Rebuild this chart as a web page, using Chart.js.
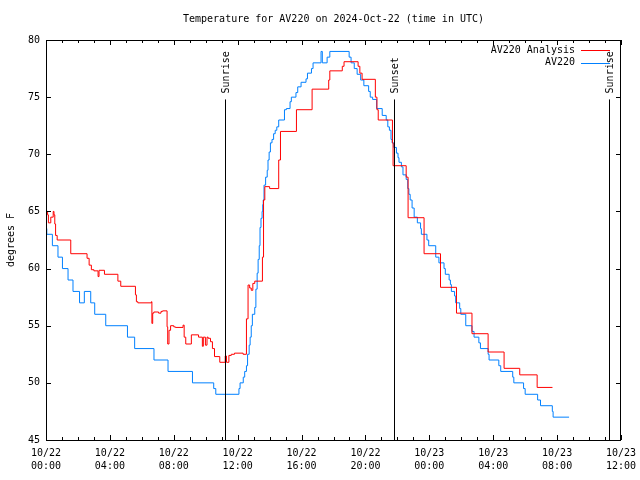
<!DOCTYPE html>
<html>
<head>
<meta charset="utf-8">
<script src="https://cdn.jsdelivr.net/npm/chart.js@4"></script>
<style>
  body { margin: 0; background: #fff; }
  canvas { display: block; }
</style>
</head>
<body>
<canvas id="chart" width="640" height="480"></canvas>
<script>
// hours after 10/22 00:00 UTC where the value changes, and the value from then on
const analysisHours = [0, 0.1, 0.15, 0.3, 0.45, 0.5, 0.55, 0.6, 0.7, 1.55, 2.57, 2.7, 2.84, 3.0, 3.26, 3.32, 3.66,
    4.5, 4.68, 5.6, 5.66, 5.75, 6.6, 6.63, 6.68, 6.75, 7.05, 7.2, 7.3, 7.58, 7.62, 7.7, 7.8, 8.0, 8.1, 8.58,
    8.65, 8.75, 9.1, 9.55, 9.79, 9.85, 9.98, 10.08, 10.15, 10.3, 10.42, 10.55, 10.88, 11.22, 11.3, 11.45,
    11.6, 11.8, 12.34, 12.55, 12.65, 12.75, 12.85, 12.95, 13.07, 13.55, 13.62, 13.7, 14.0, 14.57, 14.68,
    15.68, 16.66, 17.7, 17.77, 18.55, 18.66, 19.54, 19.65, 19.79, 20.62, 20.72, 20.8, 21.69, 21.73, 22.55,
    22.67, 23.67, 24.7, 25.7, 26.67, 27.68, 28.68, 29.66, 30.75, 31.71];
const analysisTemps = [65, 64.7, 64, 64.5, 65, 64.7, 63.9, 62.9, 62.5, 61.3, 60.9, 60.3, 59.9, 59.8, 59.3, 59.85, 59.5,
    58.9, 58.45, 57.7, 57.1, 57.0, 57.1, 55.2, 56.1, 56.2, 56.1, 56.25, 56.3, 54.9, 53.4, 54.6, 55.0, 54.9, 54.85, 55.05,
    54.0, 53.4, 54.2, 54.0, 53.2, 54.0, 53.3, 54.0, 53.9, 53.6, 53.0, 52.3, 51.8, 52.35, 51.8, 52.4,
    52.5, 52.6, 52.5, 55.6, 58.56, 58.3, 58.1, 58.7, 58.9, 61.0, 66.0, 67.17, 67.0, 69.5, 72.0,
    73.9, 75.7, 76.5, 77.3, 77.7, 78.1, 77.7, 77.1, 76.56, 75.0, 73.9, 73.0, 71.0, 69.0, 68.0,
    64.45, 61.3, 58.36, 56.1, 54.3, 52.7, 51.27, 50.7, 49.6, 49.6];

const obsHours = [0, 0.05, 0.4, 0.75, 1.03, 1.38, 1.69, 2.1, 2.4, 2.8, 3.05, 3.74, 5.1, 5.55, 6.76, 7.64, 9.17,
    10.5, 10.63, 12.08, 12.15, 12.35, 12.44, 12.55, 12.62, 12.72, 12.78, 12.85, 12.92, 13.07, 13.14, 13.22,
    13.28, 13.35, 13.4, 13.46, 13.53, 13.57, 13.6, 13.65, 13.75, 13.85, 13.9, 13.97, 14.05, 14.15, 14.25,
    14.35, 14.45, 14.57, 14.93, 15.05, 15.28, 15.36, 15.65, 15.76, 15.97, 16.28, 16.37, 16.62, 16.72,
    17.22, 17.3, 17.6, 17.77, 18.98, 19.1, 19.3, 19.48, 19.7, 19.9, 20.2, 20.3, 20.45, 20.7, 21.05, 21.3,
    21.4, 21.5, 21.6, 21.67, 21.77, 21.94, 22.04, 22.1, 22.25, 22.35, 22.55, 22.65, 22.72, 22.8, 22.92,
    23.05, 23.25, 23.45, 23.5, 23.85, 23.96, 24.4, 24.6, 24.92, 25.0, 25.24, 25.32, 25.38, 25.58, 25.65,
    25.9, 25.97, 26.28, 26.67, 26.8, 27.1, 27.2, 27.68, 27.74, 28.35, 28.47, 29.22, 29.29, 29.9, 30.0,
    30.78, 30.96, 31.7, 31.75, 32.75];
const obsTemps = [63.5, 63, 62, 61, 60, 59, 58, 57, 58, 57, 56, 55, 54, 53, 52, 51, 50,
    49.5, 49, 49.5, 50, 50.5, 51, 51.5, 52.5, 53.3, 54, 55, 56, 56.6, 58.2, 59.6,
    60.8, 62, 63.6, 64.4, 65, 65.6, 66, 67.3, 68, 68.6, 69.5, 70.2, 71, 71.3, 71.8,
    72.1, 72.4, 73, 73.9, 74, 74.6, 75, 75.4, 75.9, 76.3, 76.6, 77.1, 77.5, 78,
    79, 78, 78.5, 79, 78.5, 78, 77.5, 77, 76.5, 76, 75.5, 75, 74.8, 74, 73.4, 73,
    72.4, 72.1, 71.3, 71, 70.6, 70.1, 69.7, 69.3, 68.9, 68.2, 67.8, 67, 66.5, 66, 65.3,
    64.5, 64, 63.5, 63, 62.5, 62, 61, 60.5, 60, 59.5, 59, 58.6, 58, 57.6, 57,
    56.5, 56, 55, 54.5, 54, 53.5, 53, 52.5, 52, 51.5, 51, 50.5, 50, 49.5, 49,
    48.5, 48, 47.5, 47, 47];

const xTickHours = [0, 4, 8, 12, 16, 20, 24, 28, 32, 36];
const xTickLabels = [['10/22', '00:00'], ['10/22', '04:00'], ['10/22', '08:00'], ['10/22', '12:00'], ['10/22', '16:00'],
    ['10/22', '20:00'], ['10/23', '00:00'], ['10/23', '04:00'], ['10/23', '08:00'], ['10/23', '12:00']];
const yTicks = [45, 50, 55, 60, 65, 70, 75, 80];

const sunLabels = ['Sunrise', 'Sunset', 'Sunrise'];
const sunHours = [11.21, 21.79, 35.25];

const font = '10px "DejaVu Sans Mono", monospace';

function toPoints(hours, temps) {
    return hours.map((h, i) => ({x: h, y: temps[i]}));
}

const gnuplotLook = {
    id: 'gnuplotLook',
    afterDatasetsDraw(chart) {
        const ctx = chart.ctx;
        const area = chart.chartArea;
        const xs = chart.scales.x;
        const ys = chart.scales.y;
        ctx.save();
        ctx.strokeStyle = '#000';
        ctx.lineWidth = 1;
        ctx.fillStyle = '#000';
        ctx.font = font;

        // sunrise / sunset markers
        const lineTop = ys.getPixelForValue(74.8);
        sunHours.forEach((h, i) => {
            const x = Math.round(xs.getPixelForValue(h)) + 0.5;
            ctx.beginPath();
            ctx.moveTo(x, lineTop);
            ctx.lineTo(x, area.bottom);
            ctx.stroke();
            ctx.save();
            ctx.translate(x + 1, lineTop - 6);
            ctx.rotate(-Math.PI / 2);
            ctx.textAlign = 'left';
            ctx.textBaseline = 'middle';
            ctx.fillText(sunLabels[i], 0, 0);
            ctx.restore();
        });

        // border
        ctx.strokeRect(Math.round(area.left) + 0.5, Math.round(area.top) + 0.5,
            Math.round(area.right - area.left) - 1, Math.round(area.bottom - area.top));

        // inward ticks
        ctx.beginPath();
        for (let h = 0; h <= 36; h++) {
            const x = Math.round(xs.getPixelForValue(h)) + 0.5;
            const len = h % 4 === 0 ? 5 : 3;
            ctx.moveTo(x, area.bottom);
            ctx.lineTo(x, area.bottom - len);
            ctx.moveTo(x, area.top);
            ctx.lineTo(x, area.top + len);
        }
        yTicks.forEach(v => {
            const y = Math.round(ys.getPixelForValue(v)) + 0.5;
            ctx.moveTo(area.left, y);
            ctx.lineTo(area.left + 5, y);
            ctx.moveTo(area.right, y);
            ctx.lineTo(area.right - 5, y);
        });
        ctx.stroke();

        // title
        ctx.textAlign = 'center';
        ctx.textBaseline = 'middle';
        ctx.fillText('Temperature for AV220 on 2024-Oct-22 (time in UTC)', (area.left + area.right) / 2, 19);

        // y label
        ctx.save();
        ctx.translate(11, (area.top + area.bottom) / 2);
        ctx.rotate(-Math.PI / 2);
        ctx.fillText('degrees F', 0, 0);
        ctx.restore();

        // legend: text then line sample
        ctx.textAlign = 'right';
        chart.data.datasets.forEach((ds, i) => {
            const y = 50 + i * 12.5;
            ctx.fillStyle = '#000';
            ctx.fillText(ds.label, 575, y);
            ctx.strokeStyle = ds.borderColor;
            ctx.beginPath();
            ctx.moveTo(581, Math.round(y) + 0.5);
            ctx.lineTo(610, Math.round(y) + 0.5);
            ctx.stroke();
        });
        ctx.restore();
    }
};

new Chart(document.getElementById('chart'), {
    type: 'line',
    data: {
        datasets: [
            {label: 'AV220 Analysis', data: toPoints(analysisHours, analysisTemps), borderColor: '#ff0000',
             borderWidth: 1, pointRadius: 0, stepped: 'before'},
            {label: 'AV220', data: toPoints(obsHours, obsTemps), borderColor: '#0080ff',
             borderWidth: 1, pointRadius: 0, stepped: 'before'}
        ]
    },
    options: {
        responsive: false,
        animation: false,
        devicePixelRatio: 1,
        layout: {padding: {top: 40, right: 19, left: 0, bottom: 0}},
        plugins: {legend: {display: false}, tooltip: {enabled: false}},
        scales: {
            x: {
                type: 'linear', min: 0, max: 36,
                grid: {display: false, drawTicks: false},
                border: {display: false},
                afterFit: scale => { scale.height = 40; scale.paddingLeft = 0; scale.paddingRight = 0; },
                afterBuildTicks: scale => { scale.ticks = xTickHours.map(v => ({value: v})); },
                ticks: {
                    autoSkip: false, maxRotation: 0, padding: 7, color: '#000',
                    font: {family: '"DejaVu Sans Mono", monospace', size: 10, lineHeight: 1.3},
                    callback: v => xTickLabels[xTickHours.indexOf(v)]
                }
            },
            y: {
                min: 45, max: 80,
                grid: {display: false, drawTicks: false},
                border: {display: false},
                afterFit: scale => { scale.width = 46; scale.paddingTop = 0; scale.paddingBottom = 0; },
                afterBuildTicks: scale => { scale.ticks = yTicks.map(v => ({value: v})); },
                ticks: {
                    padding: 6, color: '#000',
                    font: {family: '"DejaVu Sans Mono", monospace', size: 10}
                }
            }
        }
    },
    plugins: [gnuplotLook]
});
</script>
</body>
</html>
